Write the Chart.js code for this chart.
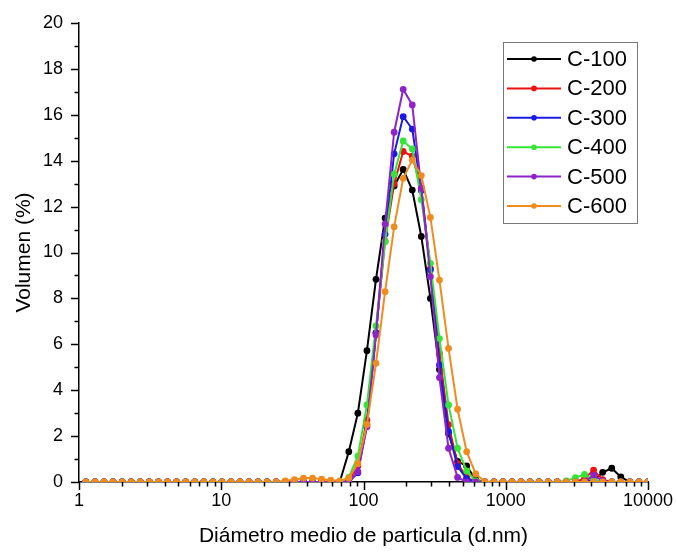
<!DOCTYPE html>
<html>
<head>
<meta charset="utf-8">
<script src="https://cdn.jsdelivr.net/npm/chart.js@4.4.1/dist/chart.umd.min.js"></script>
<style>
  body { margin: 0; background: #fff; }
</style>
</head>
<body>
<canvas id="myChart" width="677" height="552"></canvas>
<script>
// size classes (d.nm)
var diametro = [1.117, 1.294, 1.499, 1.736, 2.01, 2.328, 2.696, 3.122, 3.615, 4.187,
  4.849, 5.615, 6.503, 7.531, 8.721, 10.1, 11.7, 13.54, 15.69, 18.17,
  21.04, 24.36, 28.21, 32.67, 37.84, 43.82, 50.75, 58.77, 68.06, 78.82,
  91.28, 105.7, 122.4, 141.8, 164.2, 190.1, 220.2, 255.0, 295.3, 342.0,
  396.1, 458.7, 531.2, 615.1, 712.4, 825.0, 955.4, 1106, 1281, 1484,
  1718, 1990, 2305, 2669, 3091, 3580, 4145, 4801, 5560, 6439,
  7456, 8635, 10000]

var c100 = [0, 0, 0, 0, 0, 0, 0, 0, 0, 0,
  0, 0, 0, 0, 0, 0, 0, 0, 0, 0,
  0, 0, 0, 0, 0, 0, 0, 0, 0, 1.32,
  3.0, 5.72, 8.83, 11.5, 12.9, 13.62, 12.72, 10.7, 8.0, 4.9,
  2.1, 0.9, 0.7, 0.1, 0, 0, 0, 0, 0, 0,
  0, 0, 0, 0, 0, 0, 0.05, 0.42, 0.6, 0.22,
  0, 0, 0]
var c200 = [0, 0, 0, 0, 0, 0, 0, 0, 0, 0,
  0, 0, 0, 0, 0, 0, 0, 0, 0, 0,
  0, 0, 0, 0, 0, 0, 0, 0, 0, 0.05,
  0.7, 2.7, 6.5, 10.5, 13.0, 14.4, 14.2, 12.8, 9.3, 5.6,
  2.5, 0.8, 0.2, 0, 0, 0, 0, 0, 0, 0,
  0, 0, 0, 0, 0, 0.15, 0.52, 0.1, 0, 0,
  0, 0, 0]
var c300 = [0, 0, 0, 0, 0, 0, 0, 0, 0, 0,
  0, 0, 0, 0, 0, 0, 0, 0, 0, 0,
  0, 0, 0, 0, 0, 0, 0, 0, 0, 0,
  0.4, 2.5, 6.5, 10.8, 14.3, 15.92, 15.38, 12.7, 9.24, 5.1,
  2.2, 0.67, 0.15, 0, 0, 0, 0, 0, 0, 0,
  0, 0, 0, 0, 0, 0, 0.1, 0, 0, 0,
  0, 0, 0]
var c400 = [0, 0, 0, 0, 0, 0, 0, 0, 0, 0,
  0, 0, 0, 0, 0, 0, 0, 0, 0, 0,
  0, 0, 0, 0, 0, 0, 0, 0, 0, 0.2,
  1.13, 3.36, 6.8, 10.47, 13.41, 14.86, 14.51, 12.3, 9.53, 6.25,
  3.36, 1.47, 0.48, 0.05, 0, 0, 0, 0, 0, 0,
  0, 0, 0, 0.05, 0.19, 0.33, 0.1, 0, 0, 0,
  0, 0, 0]
var c500 = [0, 0, 0, 0, 0, 0, 0, 0, 0, 0,
  0, 0, 0, 0, 0, 0, 0, 0, 0, 0,
  0, 0, 0, 0, 0, 0, 0, 0, 0, 0,
  0.45, 2.41, 6.41, 11.24, 15.24, 17.11, 16.43, 12.8, 8.95, 4.55,
  1.47, 0.2, 0, 0, 0, 0, 0, 0, 0, 0,
  0, 0, 0, 0, 0, 0, 0.3, 0.05, 0, 0,
  0, 0, 0]
var c600 = [0, 0, 0, 0, 0, 0, 0, 0, 0, 0,
  0, 0, 0, 0, 0, 0, 0, 0, 0, 0,
  0, 0, 0.05, 0.1, 0.17, 0.17, 0.12, 0.08, 0.05, 0.17,
  0.8, 2.51, 5.17, 8.29, 11.12, 13.23, 14.03, 13.35, 11.53, 8.8,
  5.82, 3.17, 1.32, 0.35, 0.02, 0, 0, 0, 0, 0,
  0, 0, 0, 0, 0, 0, 0, 0, 0, 0,
  0, 0, 0]

var nombres = ['C-100', 'C-200', 'C-300', 'C-400', 'C-500', 'C-600']
var colores = ['#000000', '#ee1111', '#1a1ae6', '#33e633', '#8e24c8', '#f08c1e']
var series = [c100, c200, c300, c400, c500, c600]

var xTicks = [1, 10, 100, 1000, 10000]
var fuente = '"Liberation Sans", Arial, sans-serif'

// outward major/minor ticks like Origin
var axisTicks = {
  id: 'axisTicks',
  afterDraw: function (chart) {
    var ctx = chart.ctx, a = chart.chartArea
    var xs = chart.scales.x, ys = chart.scales.y
    ctx.save()
    ctx.strokeStyle = '#000'
    ctx.lineWidth = 1.5
    ctx.beginPath()
    for (var d = 1; d <= 10000; d *= 10) {
      for (var m = 1; m <= 9; m++) {
        var v = d * m
        if (v > 10000) break
        var px = Math.round(xs.getPixelForValue(v)) + 0.5
        ctx.moveTo(px, a.bottom)
        ctx.lineTo(px, a.bottom + (m === 1 ? 8 : 4.5))
      }
    }
    for (var i = 0; i <= 20; i++) {
      var py = Math.round(ys.getPixelForValue(i)) + 0.5
      ctx.moveTo(a.left, py)
      ctx.lineTo(a.left - (i % 2 === 0 ? 8 : 4.5), py)
    }
    ctx.stroke()
    ctx.restore()
  }
}

// legend box with line + dot markers
var leyenda = {
  id: 'leyenda',
  afterDraw: function (chart) {
    var ctx = chart.ctx, a = chart.chartArea
    var bx = a.right - 145, by = a.top + 19, bw = 134, bh = 181
    ctx.save()
    ctx.fillStyle = '#fff'
    ctx.fillRect(bx, by, bw, bh)
    ctx.strokeStyle = '#777'
    ctx.lineWidth = 1
    ctx.strokeRect(bx + 0.5, by + 0.5, bw, bh)
    ctx.font = '22px ' + fuente
    ctx.textBaseline = 'middle'
    for (var i = 0; i < nombres.length; i++) {
      var yy = by + 17 + i * 29.4
      ctx.strokeStyle = colores[i]
      ctx.fillStyle = colores[i]
      ctx.lineWidth = 2
      ctx.beginPath()
      ctx.moveTo(bx + 4, yy)
      ctx.lineTo(bx + 58, yy)
      ctx.stroke()
      ctx.beginPath()
      ctx.arc(bx + 31, yy, 2.8, 0, Math.PI * 2)
      ctx.fill()
      ctx.fillStyle = '#000'
      ctx.fillText(nombres[i], bx + 64, yy + 1)
    }
    ctx.restore()
  }
}

var datasets = series.map(function (s, i) {
  return {
    label: nombres[i],
    data: diametro.map(function (d, j) { return { x: d, y: s[j] } }),
    borderColor: colores[i],
    backgroundColor: colores[i],
    borderWidth: 2,
    pointRadius: 3.4,
    pointBorderWidth: 0,
    pointHoverRadius: 3.4,
    fill: false,
    lineTension: 0,
    clip: 0,
    order: series.length - i
  }
})

var ctx = document.getElementById('myChart')
var myChart = new Chart(ctx, {
  type: 'line',
  data: { datasets: datasets },
  options: {
    animation: false,
    responsive: false,
    events: [],
    layout: { padding: { top: 23, right: 29, left: 0, bottom: 0 } },
    plugins: {
      legend: { display: false },
      tooltip: { enabled: false }
    },
    scales: {
      x: {
        type: 'logarithmic',
        min: 1,
        max: 10000,
        afterBuildTicks: function (s) {
          s.ticks = xTicks.map(function (v) { return { value: v } })
        },
        afterFit: function (s) { s.height = 70 },
        grid: { display: true, drawOnChartArea: false, color: 'rgba(0,0,0,0)', tickLength: 8 },
        border: { display: true, color: '#000', width: 1.5 },
        ticks: {
          color: '#000',
          font: { family: fuente, size: 18 },
          padding: 0,
          maxRotation: 0,
          autoSkip: false,
          callback: function (v) { return String(v) }
        },
        title: {
          display: true,
          text: 'Diámetro medio de particula (d.nm)',
          color: '#000',
          font: { family: fuente, size: 21 },
          padding: { top: 0, bottom: 3 }
        }
      },
      y: {
        min: 0,
        max: 20,
        afterFit: function (s) { s.width = 79 },
        grid: { display: true, drawOnChartArea: false, color: 'rgba(0,0,0,0)', tickLength: 8 },
        border: { display: true, color: '#000', width: 1.5 },
        ticks: {
          stepSize: 2,
          color: '#000',
          font: { family: fuente, size: 18 },
          padding: 8
        },
        title: {
          display: true,
          text: 'Volumen (%)',
          color: '#000',
          font: { family: fuente, size: 21 },
          padding: { top: 12, bottom: 0 }
        }
      }
    }
  },
  plugins: [axisTicks, leyenda]
})
</script>
</body>
</html>
